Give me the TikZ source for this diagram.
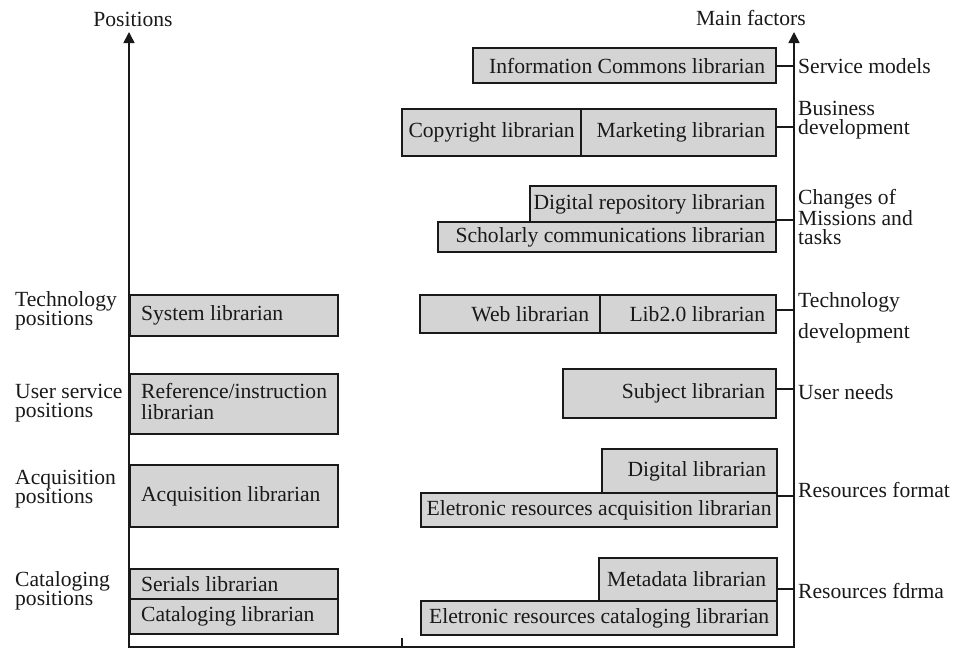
\documentclass[tikz,border=0pt]{standalone}
\usepackage{fontspec}
\setmainfont{Liberation Serif}
\usetikzlibrary{arrows.meta}
\definecolor{boxfill}{RGB}{212,212,212}
\definecolor{ink}{RGB}{25,25,25}
\newcommand\libfont{\fontsize{21.6}{19}\selectfont}
\tikzset{
  libbox/.style={draw=ink, fill=boxfill, line width=2.2pt, inner sep=0pt, font=\libfont, text=ink},
  axisline/.style={draw=ink, line width=1.6pt},
  conn/.style={draw=ink, line width=2pt},
  lab/.style={font=\libfont, text=ink, inner sep=0pt, align=left},
  tip/.tip={Triangle[length=11pt,width=11pt]}
}
% name, x1, y1, x2, y2, alignment, text
\newcommand\mkbox[7]{%
  \pgfmathsetmacro\bw{#4-#2}%
  \pgfmathsetmacro\bh{#5-#3}%
  \pgfmathsetmacro\tw{#4-#2-22}%
  \node[libbox, minimum width=\bw pt, minimum height=\bh pt, anchor=north west] (#1) at (#2,#3) {\makebox[\tw pt][#6]{#7}};}
\begin{document}
\begin{tikzpicture}[x=1pt,y=-1pt]
\useasboundingbox (0,0) rectangle (954,649);

% axes
\coordinate (ltop) at (129,32);
\coordinate (lbot) at (129,647);
\coordinate (rbot) at (794,647);
\coordinate (rtop) at (794,32);
\draw[axisline, tip-tip] (ltop) -- (lbot) -- (rbot) -- (rtop);
\coordinate (tick) at (402,638);
\draw[axisline] (tick) -- (tick |- lbot);

\node[lab, anchor=base] (pos) at (133,26) {Positions};
\node[lab, anchor=base east] (mf) at (806,25) {Main factors};

% left boxes
\mkbox{sys}{129}{294}{337}{335}{l}{System librarian}
\mkbox{ref}{129}{373}{337}{433}{l}{\begin{tabular}{@{}l@{}}Reference/instruction\\ librarian\end{tabular}}
\mkbox{acq}{129}{464}{337}{526}{l}{Acquisition librarian}
\mkbox{ser}{129}{568}{337}{598}{l}{Serials librarian}
\mkbox{cat}{129}{598}{337}{633}{l}{Cataloging librarian}

% left labels (base = last line)
\node[lab, anchor=base west] (l1) at (15,325) {Technology\\positions};
\node[lab, anchor=base west] (l2) at (15,417) {User service\\positions};
\node[lab, anchor=base west] (l3) at (15,503) {Acquisition\\positions};
\node[lab, anchor=base west] (l4) at (15,605) {Cataloging\\positions};

% right boxes
\mkbox{ic}{472}{47}{775}{82}{r}{Information Commons librarian}
\mkbox{copy}{401}{108}{580}{155}{c}{Copyright librarian}
\mkbox{mkt}{580}{108}{775}{155}{r}{Marketing librarian}
\mkbox{drep}{529}{185}{775}{221}{r}{Digital repository librarian}
\mkbox{schol}{437}{221}{775}{251}{r}{Scholarly communications librarian}
\mkbox{web}{419}{294}{599}{332}{r}{Web librarian}
\mkbox{lib}{599}{294}{775}{332}{r}{Lib2.0 librarian}
\mkbox{subj}{562}{368}{775}{417}{r}{Subject librarian}
\mkbox{dig}{601}{448}{776}{492}{r}{Digital librarian}
\mkbox{eacq}{420}{492}{776}{526}{c}{Eletronic resources acquisition librarian}
\mkbox{meta}{598}{557}{776}{600}{r}{Metadata librarian}
\mkbox{ecat}{420}{600}{776}{634}{c}{Eletronic resources cataloging librarian}

% connectors
\draw[conn] (ic.east) -- (ic.east -| rtop);
\draw[conn] ([yshift=6pt]mkt.east) -- ([yshift=6pt]mkt.east -| rtop);
\draw[conn] ([yshift=3pt]drep.south east) -- ([yshift=3pt]drep.south east -| rtop);
\draw[conn] ([yshift=4pt]lib.east) -- ([yshift=4pt]lib.east -| rtop);
\draw[conn] ([yshift=5pt]subj.east) -- ([yshift=5pt]subj.east -| rtop);
\draw[conn] ([yshift=-2pt]dig.south east) -- ([yshift=-2pt]dig.south east -| rtop);
\draw[conn] ([yshift=-9pt]meta.east) -- ([yshift=-9pt]meta.east -| rtop);

% right labels (base = last line)
\node[lab, anchor=base west] (r1) at (798,73) {Service models};
\node[lab, anchor=base west] (r2) at (798,134) {Business\\development};
\node[lab, anchor=base west] (r3) at (798,244) {Changes of\\Missions and\\tasks};
\node[lab, anchor=base west] (r4) at (798,338) {Technology\\[10pt]development};
\node[lab, anchor=base west] (r5) at (798,399) {User needs};
\node[lab, anchor=base west] (r6) at (798,497) {Resources format};
\node[lab, anchor=base west] (r7) at (798,598) {Resources fdrma};
\end{tikzpicture}
\end{document}
